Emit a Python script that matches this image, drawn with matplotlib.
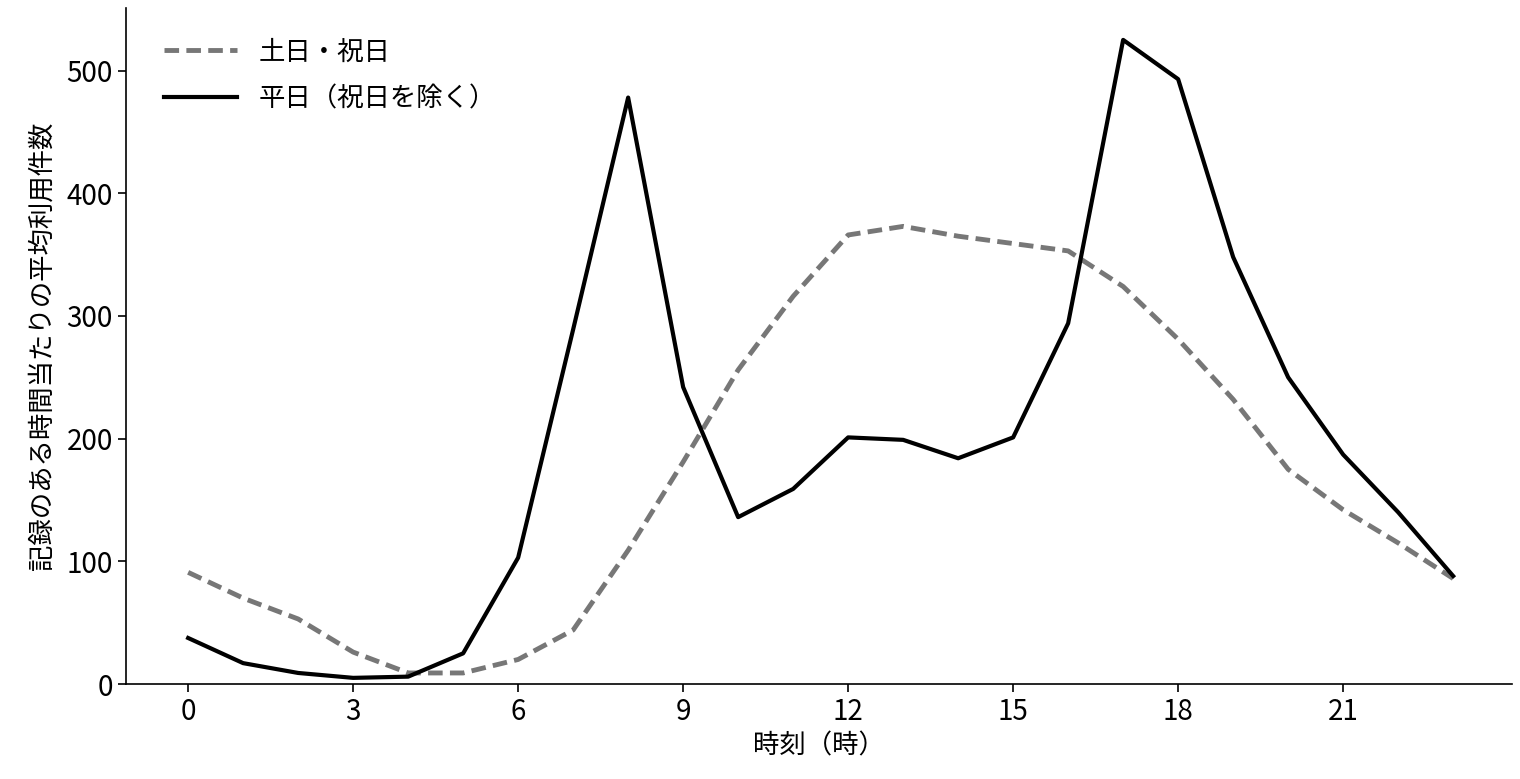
import matplotlib
matplotlib.use("Agg")
import matplotlib.pyplot as plt

plt.rcParams['font.family'] = ['Noto Sans CJK JP', 'DejaVu Sans']

hours = list(range(24))
weekend = [91, 70, 53, 26, 9, 9, 20, 44, 109, 181, 256, 316, 366, 373, 365, 359, 353, 324, 281, 232, 175, 142, 115, 86]
weekday = [37.5, 17, 9, 5, 6, 25, 103, 289, 478, 242, 136, 159, 201, 199, 184, 201, 294, 525, 493, 348, 250, 187, 140, 88]
xticks = [0, 3, 6, 9, 12, 15, 18, 21]

fig = plt.figure(figsize=(15.2, 7.79), dpi=100)
ax = fig.add_axes([126/1520, 95/779, 1386/1520, 676/779])
ax.plot(hours, weekend, color='#777777', lw=3.5, ls=(0, (3, 1.5)), label='土日・祝日')
ax.plot(hours, weekday, color='black', lw=3, label='平日（祝日を除く）')
ax.set_xlim(-1.13, 24.07)
ax.set_ylim(0, 551)
ax.set_xticks(xticks)
ax.set_yticks([0, 100, 200, 300, 400, 500])
ax.tick_params(labelsize=20, length=6, width=1.2)
ax.spines['top'].set_visible(False)
ax.spines['right'].set_visible(False)
for s in ('left', 'bottom'):
    ax.spines[s].set_linewidth(1.2)
ax.set_xlabel('時刻（時）', fontsize=19, labelpad=4)
ax.set_ylabel('記録のある時間当たりの平均利用件数', fontsize=19, labelpad=8)
ax.legend(loc='upper left', fontsize=19, frameon=False, handlelength=2.8,
          labelspacing=0.75, bbox_to_anchor=(0.01, 0.99))
fig.savefig('out.png', dpi=100)
